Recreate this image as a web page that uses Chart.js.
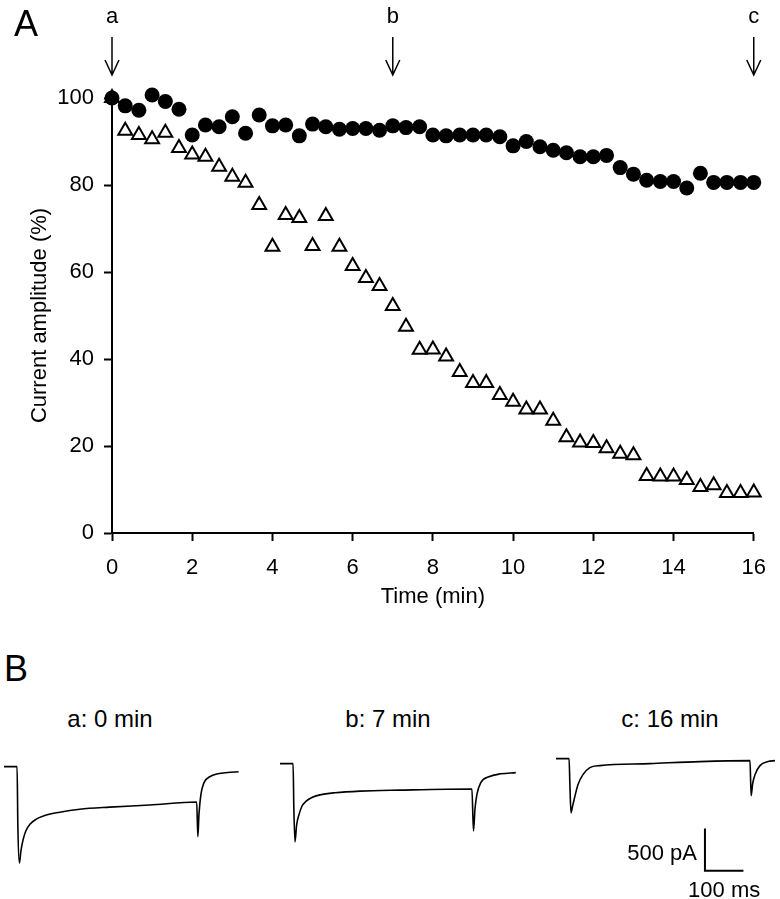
<!DOCTYPE html>
<html lang="en">
<head>
<meta charset="UTF-8">
<title>Current amplitude vs time</title>
<script src="https://cdn.jsdelivr.net/npm/chart.js"></script>
<style>
  body { margin: 0; background: #fff; }
  #wrap { position: relative; width: 780px; height: 899px; font-family: "Liberation Sans", Arial, sans-serif; color: #000; }
  .abs { position: absolute; }
  .panel { font-size: 36px; line-height: 1; }
  .trace-title { font-size: 24px; width: 200px; text-align: center; line-height: 1; }
</style>
</head>
<body>
<div id="wrap">
  <canvas id="chartA" class="abs" style="left:0;top:0" width="780" height="620"></canvas>
  <div class="abs panel" style="left:14px;top:6px">A</div>
  <div class="abs panel" style="left:4px;top:651px">B</div>
  <canvas id="trace0" class="abs" style="left:4px;top:754px" width="250" height="145"></canvas>
  <canvas id="trace1" class="abs" style="left:280px;top:754px" width="250" height="145"></canvas>
  <canvas id="trace2" class="abs" style="left:556px;top:754px" width="224" height="145"></canvas>
</div>

<script>
// sampling times (min)
const sampleTimes = [0, 0.33, 0.67, 1, 1.33, 1.67, 2, 2.33, 2.67, 3, 3.33, 3.67, 4, 4.33, 4.67, 5, 5.33,
  5.67, 6, 6.33, 6.67, 7, 7.33, 7.67, 8, 8.33, 8.67, 9, 9.33, 9.67, 10, 10.33, 10.67, 11, 11.33,
  11.67, 12, 12.33, 12.67, 13, 13.33, 13.67, 14, 14.33, 14.67, 15, 15.33, 15.67, 16];

// filled circles (%)
const circleAmp = [100, 98.2, 97.2, 100.7, 99.2, 97.4, 91.5, 93.8, 93.4, 95.7, 91.9, 96.1, 93.6, 93.8,
  91.3, 94, 93.4, 92.8, 93, 93, 92.6, 93.6, 93.2, 93.4, 91.5, 91.3, 91.5, 91.5, 91.5, 91.1, 89,
  90, 88.8, 88, 87.4, 86.5, 86.5, 86.8, 84, 82.5, 81.1, 80.8, 80.8, 79.3, 82.7, 80.6, 80.6, 80.6, 80.6];

// open triangles (%)
const triangleAmp = [100, 92.5, 91.5, 90.5, 92, 88.5, 87, 86.5, 84.2, 81.9, 80.5, 75.4, 65.8, 73.1,
  72.4, 66, 72.9, 65.8, 61.4, 58.6, 56.8, 52.2, 47.4, 42.1, 42.2, 40.6, 37, 34.5, 34.5, 31.7,
  30.2, 28.4, 28.4, 25.8, 22, 20.8, 20.7, 19.5, 18.2, 17.9, 13.1, 13, 13, 12.2, 10.6, 11, 9.2, 9.2, 9.3];

// times where the example traces were taken
const markerLabels = ['a', 'b', 'c'];
const markerTimes = [0, 7, 16];

// current traces (ms, pA)
const traceTimes = [
  [0, 34, 36, 40, 44, 50, 57, 68, 83, 106, 145, 197, 275, 379, 501, 504, 507, 512, 520, 535, 556, 582, 610],
  [0, 34, 36, 39, 43, 50, 57, 68, 83, 104, 143, 208, 312, 499, 503, 507, 512, 522, 543, 574, 613],
  [0, 34, 36, 39, 43, 47, 57, 70, 88, 114, 244, 374, 504, 507, 511, 517, 530, 551, 569]
];
const traceCurrents = [
  [0, 0, -700, -1143, -1000, -860, -760, -680, -625, -580, -540, -505, -480, -455, -420, -830, -560, -330, -190, -120, -85, -70, -60],
  [36, 36, -500, -893, -700, -560, -470, -410, -365, -335, -310, -290, -278, -265, -762, -500, -330, -190, -120, -85, -71],
  [95, 95, -200, -548, -470, -393, -214, -95, -12, 12, 36, 60, 71, -345, -200, -95, 12, 60, 71]
];

// scale bar
const scaleBarPA = 500;
const scaleBarMs = 100;

const FONT = '"Liberation Sans", Arial, sans-serif';

const markerPlugin = {
  id: 'markers',
  afterDraw(chart) {
    const { ctx, scales: { x } } = chart;
    ctx.save();
    ctx.strokeStyle = '#000';
    ctx.fillStyle = '#000';
    ctx.lineWidth = 1.5;
    ctx.font = '22px ' + FONT;
    ctx.textAlign = 'center';
    ctx.textBaseline = 'middle';
    markerTimes.forEach((t, i) => {
      const px = x.getPixelForValue(t);
      ctx.fillText(markerLabels[i], px, 17);
      ctx.beginPath();
      ctx.moveTo(px, 37);
      ctx.lineTo(px, 75);
      ctx.moveTo(px - 7, 60);
      ctx.lineTo(px, 75);
      ctx.lineTo(px + 7, 60);
      ctx.stroke();
    });
    ctx.restore();
  }
};

new Chart(document.getElementById('chartA'), {
  type: 'scatter',
  data: {
    datasets: [
      {
        data: circleAmp.map((v, i) => ({ x: sampleTimes[i], y: v })),
        pointStyle: 'circle',
        pointRadius: 7.5,
        backgroundColor: '#000',
        borderColor: '#000',
        borderWidth: 0,
        clip: false
      },
      {
        data: triangleAmp.map((v, i) => ({ x: sampleTimes[i], y: v })),
        pointStyle: 'triangle',
        pointRadius: 8,
        backgroundColor: '#fff',
        borderColor: '#000',
        borderWidth: 2,
        clip: false
      }
    ]
  },
  options: {
    responsive: false,
    animation: false,
    layout: { padding: { top: 98, right: 25, left: 0, bottom: 0 } },
    plugins: { legend: { display: false }, tooltip: { enabled: false } },
    scales: {
      x: {
        type: 'linear', min: 0, max: 16,
        ticks: { stepSize: 2, padding: 14, color: '#000', font: { size: 22, family: FONT } },
        grid: { drawOnChartArea: false, tickLength: 8, tickWidth: 2, color: '#000' },
        border: { color: '#000', width: 2 },
        title: { display: true, text: 'Time (min)', color: '#000', font: { size: 22, family: FONT }, padding: { top: 0, bottom: 10 } },
        afterFit(s) { s.height = 87; }
      },
      y: {
        min: 0, max: 100,
        ticks: { stepSize: 20, padding: 10, color: '#000', font: { size: 22, family: FONT } },
        grid: { drawOnChartArea: false, tickLength: 8, tickWidth: 2, color: '#000' },
        border: { color: '#000', width: 2 },
        title: { display: true, text: 'Current amplitude (%)', color: '#000', font: { size: 22, family: FONT }, padding: { top: 27, bottom: 0 } },
        afterFit(s) { s.width = 112; }
      }
    }
  },
  plugins: [markerPlugin]
});

// scale bar drawn on the last trace, using its scales
const scaleBarPlugin = {
  id: 'scaleBar',
  afterDraw(chart) {
    if (chart.canvas.id !== 'trace2') return;
    const { ctx, scales: { x, y } } = chart;
    const x0 = x.getPixelForValue(387), y0 = y.getPixelForValue(-1235);
    const x1 = x.getPixelForValue(387 + scaleBarMs), y1 = y.getPixelForValue(-1235 + scaleBarPA);
    ctx.save();
    ctx.strokeStyle = '#000';
    ctx.lineWidth = 2;
    ctx.beginPath();
    ctx.moveTo(x0, y1);
    ctx.lineTo(x0, y0);
    ctx.lineTo(x1, y0);
    ctx.stroke();
    ctx.fillStyle = '#000';
    ctx.font = '22px ' + FONT;
    ctx.textBaseline = 'middle';
    ctx.textAlign = 'right';
    ctx.fillText(scaleBarPA + ' pA', x0 - 8, (y0 + y1) / 2 + 4);
    ctx.textAlign = 'center';
    ctx.fillText(scaleBarMs + ' ms', (x0 + x1) / 2, y0 + 20);
    ctx.restore();
  }
};

traceTimes.forEach((times, i) => {
  new Chart(document.getElementById('trace' + i), {
    type: 'line',
    data: {
      datasets: [{
        data: times.map((t, j) => ({ x: t, y: traceCurrents[i][j] })),
        borderColor: '#000',
        borderWidth: 1.6,
        pointRadius: 0,
        cubicInterpolationMode: 'monotone',
        clip: false
      }]
    },
    options: {
      responsive: false,
      animation: false,
      layout: { padding: 0 },
      plugins: { legend: { display: false }, tooltip: { enabled: false } },
      scales: {
        x: { type: 'linear', display: false, min: 0, max: i === 2 ? 582 : 650 },
        y: { display: false, min: -1570, max: 150 }
      }
    },
    plugins: [scaleBarPlugin]
  });
});

// trace headings from the marker labels/times
const wrap = document.getElementById('wrap');
const titleCenters = [110, 388, 670];
markerLabels.forEach((lab, i) => {
  const d = document.createElement('div');
  d.className = 'abs trace-title';
  d.style.left = (titleCenters[i] - 100) + 'px';
  d.style.top = '707px';
  d.textContent = lab + ': ' + markerTimes[i] + ' min';
  wrap.appendChild(d);
});
</script>
</body>
</html>
